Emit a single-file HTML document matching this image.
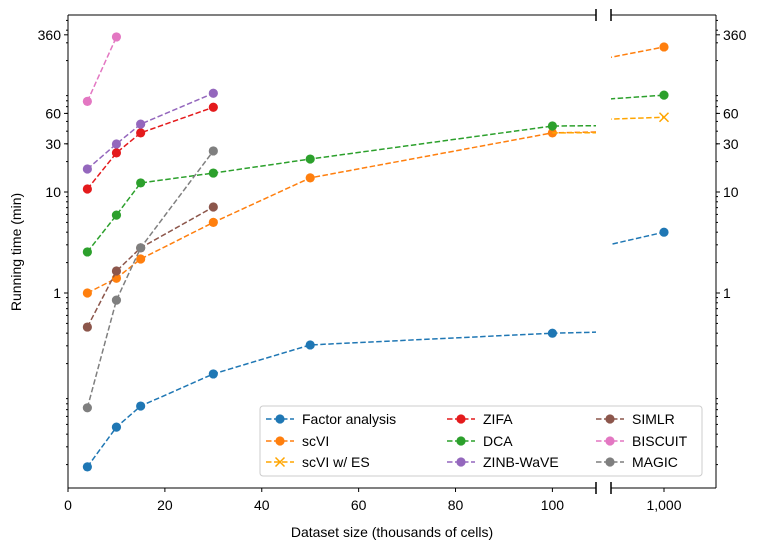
<!DOCTYPE html>
<html><head><meta charset="utf-8"><style>
body{margin:0;background:#fff;}
svg text{font-family:"Liberation Sans",Arial,sans-serif;font-size:14px;fill:#000;}
</style></head><body>
<svg id="c" width="761" height="552" xmlns="http://www.w3.org/2000/svg"></svg>
<script>
const seriesNames=["Factor analysis","scVI","scVI w/ ES","ZIFA","DCA","ZINB-WaVE","SIMLR","BISCUIT","MAGIC"];
const colors=["#1f77b4","#ff7f0e","#ffa500","#e41a1c","#2ca02c","#9467bd","#8c564b","#e377c2","#7f7f7f"];
const faX=[4,10,15,30,50,100,1000];const faY=[0.019,0.047,0.076,0.158,0.306,0.40,4.0];
const scviX=[4,10,15,30,50,100,1000];const scviY=[1,1.4,2.17,5.0,13.8,38.5,273];
const esX=[100,1000];const esY=[38.5,55];
const zifaX=[4,10,15,30];const zifaY=[10.7,24.4,38.5,69];
const dcaX=[4,10,15,30,50,100,1000];const dcaY=[2.55,5.9,12.3,15.4,21.2,45,91];
const zinbX=[4,10,15,30];const zinbY=[16.9,29.9,47,95];
const simlrX=[4,10,15,30];const simlrY=[0.46,1.65,2.8,7.1];
const biscuitX=[4,10];const biscuitY=[79,343];
const magicX=[4,10,15,30];const magicY=[0.073,0.85,2.8,25.5];
const yTicks=[1,10,30,60,360];
const xTicksLeft=[0,20,40,60,80,100];
const xTicksRight=[1000];
const allX=[faX,scviX,esX,zifaX,dcaX,zinbX,simlrX,biscuitX,magicX];
const allY=[faY,scviY,esY,zifaY,dcaY,zinbY,simlrY,biscuitY,magicY];
const markers=["o","o","x","o","o","o","o","o","o"];

const NS="http://www.w3.org/2000/svg";const svg=document.getElementById('c');
function el(t,a,p){const e=document.createElementNS(NS,t);for(const k in a)e.setAttribute(k,a[k]);(p||svg).appendChild(e);return e;}
const L={x0:68,x1:596,d0:0,d1:109},R={x0:611,x1:716,d0:892,d1:1106};
const yTop=15,yBot=488;
function yS(v){return 293-101*Math.log10(v);}
function xL(v){return L.x0+(v-L.d0)/(L.d1-L.d0)*(L.x1-L.x0);}
function xR(v){return R.x0+(v-R.d0)/(R.d1-R.d0)*(R.x1-R.x0);}
const defs=el('defs',{});
const cl=el('clipPath',{id:'cl'},defs);el('rect',{x:L.x0,y:yTop,width:L.x1-L.x0,height:yBot-yTop},cl);
const cr=el('clipPath',{id:'cr'},defs);el('rect',{x:R.x0,y:yTop,width:R.x1-R.x0,height:yBot-yTop},cr);
const ax=el('g',{stroke:'#000','stroke-width':1,fill:'none'});


el('line',{x1:L.x0,y1:yTop,x2:L.x1,y2:yTop},ax);el('line',{x1:L.x0,y1:yBot,x2:L.x1,y2:yBot},ax);el('line',{x1:L.x0,y1:yTop,x2:L.x0,y2:yBot},ax);
el('line',{x1:R.x0,y1:yTop,x2:R.x1,y2:yTop},ax);el('line',{x1:R.x0,y1:yBot,x2:R.x1,y2:yBot},ax);el('line',{x1:R.x1,y1:yTop,x2:R.x1,y2:yBot},ax);
[L.x1,R.x0].forEach(x=>{el('line',{x1:x,y1:yTop-6,x2:x,y2:yTop+6,'stroke-width':1.5},ax);el('line',{x1:x,y1:yBot-6,x2:x,y2:yBot+6,'stroke-width':1.5},ax);});
for(let d=-2;d<=2;d++)for(let m=2;m<=9;m++){const v=m*Math.pow(10,d);const y=yS(v);if(y<yTop||y>yBot)continue;
el('line',{x1:L.x0,y1:y,x2:L.x0-2,y2:y},ax);el('line',{x1:R.x1,y1:y,x2:R.x1+2,y2:y},ax);}
yTicks.forEach(v=>{const y=yS(v);el('line',{x1:L.x0,y1:y,x2:L.x0-4,y2:y},ax);el('line',{x1:R.x1,y1:y,x2:R.x1+4,y2:y},ax);
const t=el('text',{x:L.x0-7,y:y+5,'text-anchor':'end'});t.textContent=v;


const t2=el('text',{x:R.x1+7,y:y+5});t2.textContent=v;

});
xTicksLeft.forEach(v=>{const x=xL(v);el('line',{x1:x,y1:yBot,x2:x,y2:yBot+4},ax);const t=el('text',{x:x,y:yBot+22,'text-anchor':'middle'});t.textContent=v;

});
xTicksRight.forEach(v=>{const x=xR(v);el('line',{x1:x,y1:yBot,x2:x,y2:yBot+4},ax);const t=el('text',{x:x,y:yBot+22,'text-anchor':'middle'});t.textContent=v.toLocaleString('en-US');

});
let tt0=el('text',{x:392,y:537,'text-anchor':'middle'});tt0.textContent='Dataset size (thousands of cells)';


tt0=el('text',{x:0,y:0,'text-anchor':'middle',transform:'translate(21,252) rotate(-90)'});tt0.textContent='Running time (min)';


function marker(g,m,x,y,c){if(m==='x'){el('path',{d:`M${x-4.5},${y-4.5}L${x+4.5},${y+4.5}M${x-4.5},${y+4.5}L${x+4.5},${y-4.5}`,stroke:c,'stroke-width':1.5,fill:'none'},g);}
else el('circle',{cx:x,cy:y,r:4.6,fill:c},g);}
allX.forEach((xs,i)=>{
 const g=el('g',{});
 
 
 [[xL,'cl'],[xR,'cr']].forEach(([fx,cid])=>{
  const gg=el('g',{'clip-path':`url(#${cid})`},g);
  const pts=xs.map((x,j)=>fx(x)+','+yS(allY[i][j])).join(' ');
  el('polyline',{points:pts,fill:'none',stroke:colors[i],'stroke-width':1.5,'stroke-dasharray':'5.5,2.5'},gg);
  xs.forEach((x,j)=>{ if(i===2&&j===0)return; marker(gg,markers[i],fx(x),yS(allY[i][j]),colors[i]);});
 });
});
const lg=el('g',{});


el('rect',{x:260,y:406,width:442,height:70,rx:3,fill:'#fff','fill-opacity':0.85,stroke:'#ccc'},lg);
const colX=[266,447,596],rowY=[419,441,462];
seriesNames.forEach((n,i)=>{const cx=colX[Math.floor(i/3)],cy=rowY[i%3];
 const e=el('g',{},lg);
 
 
 el('line',{x1:cx,y1:cy,x2:cx+28,y2:cy,stroke:colors[i],'stroke-width':1.5,'stroke-dasharray':'5.5,2.5'},e);
 marker(e,markers[i],cx+14,cy,colors[i]);
 const tt=el('text',{x:cx+36,y:cy+5},e);tt.textContent=n;});
</script>
</body></html>
